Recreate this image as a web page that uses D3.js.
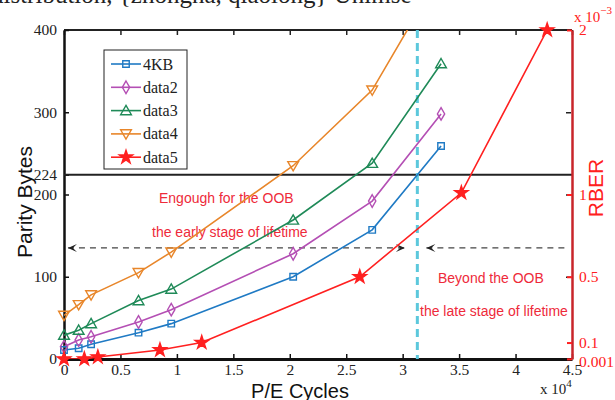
<!DOCTYPE html>
<html><head><meta charset="utf-8">
<script src="https://cdn.jsdelivr.net/npm/d3@7"></script>
<style>body{margin:0;background:#fff}svg{display:block}</style>
</head><body>
<script>
// ---- data ----
const peCycles = [0, 0.13, 0.24, 0.66, 0.95, 2.03, 2.73, 3.34];      // x 10^4
const series4KB = [11, 13, 18, 32, 43, 100, 157, 259];
const seriesData2 = [15, 23, 27, 45, 60, 128, 192, 298];
const seriesData3 = [29, 35, 43, 71, 85, 169, 238, 359];
const seriesData4 = [53, 66, 78, 105, 130, 235, 327, 470];
const rberCycles = [0, 0.18, 0.30, 0.85, 1.22, 2.62, 3.52, 4.28];    // x 10^4
const rberValues = [0, 0, 0.012, 0.055, 0.10, 0.50, 1.01, 2.0];      // x 10^-3
const xTicks = [0, 0.5, 1, 1.5, 2, 2.5, 3, 3.5, 4, 4.5];
const yTicks = [0, 100, 200, 224, 300, 400];
const rTicks = [0.001, 0.1, 0.5, 1, 2];
const oobLimit = 224;
const arrowLevel = 135;
const boundaryCycle = 3.13;
const legendNames = ["4KB", "data2", "data3", "data4", "data5"];

const W = 615, H = 400;
const L = 64, R = 572, T = 30, B = 359;
const svg = d3.select("body").append("svg").attr("width", W).attr("height", H);

const x = d3.scaleLinear().domain([0, 4.5]).range([L, R]);
const y = d3.scaleLinear().domain([0, 400]).range([B, T]);
const yr = d3.scaleLinear().domain([0, 2]).range([B, T]);

const serif = "'Liberation Serif','Times New Roman',serif";
const sans = "'Liberation Sans',Arial,sans-serif";
const red = "#ff2020", annRed = "#ee2a3a", axRed = "#c8252a";

// clipped-off paper text at the very top
svg.append("text").attr("x", -9).attr("y", 3).attr("font-family", serif).attr("font-size", 25)
  .attr("fill", "#222").text("distribution, {zhongna, qiaolong} Unimse");

svg.append("defs").append("clipPath").attr("id", "clip")
  .append("rect").attr("x", L).attr("y", T).attr("width", R - L).attr("height", B - T);

// frame
svg.append("line").attr("x1", L).attr("x2", R).attr("y1", T).attr("y2", T).attr("stroke", "#222").attr("stroke-width", 2);

// axes (ticks inward)
const xAxis = d3.axisBottom(x).tickValues(xTicks).tickFormat(d => d3.format("")(d)).tickSizeInner(-5).tickSizeOuter(0).tickPadding(5);
const gx = svg.append("g").attr("transform", `translate(0,${B})`).call(xAxis);
gx.select(".domain").attr("stroke", "#111").attr("stroke-width", 3);
gx.selectAll(".tick line").attr("stroke", "#111").attr("stroke-width", 1.5);
gx.selectAll("text").attr("font-family", serif).attr("font-size", 15.5).attr("fill", "#222");

const xTop = d3.axisTop(x).tickValues(xTicks).tickSizeInner(-5).tickSizeOuter(0).tickFormat("");
const gxt = svg.append("g").attr("transform", `translate(0,${T})`).call(xTop);
gxt.select(".domain").remove();
gxt.selectAll(".tick line").attr("stroke", "#222").attr("stroke-width", 1.5);

const yAxis = d3.axisLeft(y).tickValues(yTicks).tickSizeInner(-5).tickSizeOuter(0).tickPadding(7);
const gy = svg.append("g").attr("transform", `translate(${L},0)`).call(yAxis);
gy.select(".domain").attr("stroke", "#111").attr("stroke-width", 2.5);
gy.selectAll(".tick line").attr("stroke", "#111").attr("stroke-width", 1.5);
gy.selectAll("text").attr("font-family", serif).attr("font-size", 15.5).attr("fill", "#222");

const yRightBlack = d3.axisLeft(y).tickValues([100, 200, 300]).tickSizeInner(5).tickSizeOuter(0).tickFormat("");
const gyb = svg.append("g").attr("transform", `translate(${R - 1},0)`).call(yRightBlack);
gyb.select(".domain").remove();
gyb.selectAll(".tick line").attr("stroke", "#222").attr("stroke-width", 1.5);

// 224 limit line
svg.append("line").attr("x1", L).attr("x2", R).attr("y1", y(oobLimit)).attr("y2", y(oobLimit))
  .attr("stroke", "#222").attr("stroke-width", 2);

// cyan boundary
svg.append("line").attr("x1", x(boundaryCycle)).attr("x2", x(boundaryCycle)).attr("y1", T).attr("y2", B)
  .attr("stroke", "#5cc8dc").attr("stroke-width", 3).attr("stroke-dasharray", "8,5");

// dashed arrows
function arrowHead(px, py, dir) {
  const s = 9, h = 4;
  const p = `M${px},${py} L${px - dir * s},${py - h} L${px - dir * s * 0.55},${py} L${px - dir * s},${py + h} Z`;
  svg.append("path").attr("d", p).attr("fill", "#222");
}
const ay = y(arrowLevel);
svg.append("line").attr("x1", x(0.035)).attr("x2", x(3.02)).attr("y1", ay).attr("y2", ay)
  .attr("stroke", "#444").attr("stroke-width", 1.2).attr("stroke-dasharray", "6,5");
arrowHead(x(0.035), ay, -1);
arrowHead(x(3.02), ay, 1);
svg.append("line").attr("x1", x(3.21)).attr("x2", x(4.47)).attr("y1", ay).attr("y2", ay)
  .attr("stroke", "#444").attr("stroke-width", 1.2).attr("stroke-dasharray", "6,5");
arrowHead(x(3.21), ay, -1);

// annotations
const ann = [
  ["Engough for the OOB", 159, 203],
  ["the early stage of lifetime", 152, 237],
  ["Beyond the OOB", 438, 283],
  ["the late stage of lifetime", 420, 316]
];
ann.forEach(a => svg.append("text").attr("x", a[1]).attr("y", a[2]).attr("font-family", sans)
  .attr("font-size", 14).attr("fill", annRed).text(a[0]));

// series
const series = [
  {name: legendNames[0], xs: peCycles, ys: series4KB, color: "#1f7ac4", sym: d3.symbolSquare, size: 42, fill: "#fff", scale: y},
  {name: legendNames[1], xs: peCycles, ys: seriesData2, color: "#b44fb4", sym: d3.symbolDiamond, size: 46, fill: "#fff", scale: y},
  {name: legendNames[2], xs: peCycles, ys: seriesData3, color: "#1f8a58", sym: d3.symbolTriangle, size: 50, fill: "#fff", scale: y},
  {name: legendNames[3], xs: peCycles, ys: seriesData4, color: "#e8862a", sym: d3.symbolTriangle, size: 50, fill: "#fff", scale: y, rot: 180},
  {name: legendNames[4], xs: rberCycles, ys: rberValues, color: red, sym: d3.symbolStar, size: 55, fill: red, scale: yr}
];
const plot = svg.append("g").attr("clip-path", "url(#clip)");
const plotM = svg.append("g");
function marker(g, s, px, py) {
  g.append("path").attr("d", d3.symbol().type(s.sym).size(s.size)())
    .attr("transform", `translate(${px},${py + (s.sym === d3.symbolTriangle ? (s.rot ? -1 : 1) : 0)}) rotate(${s.rot || 0})`)
    .attr("fill", s.fill).attr("fill-opacity", s.fill === "#fff" ? 0 : 1)
    .attr("stroke", s.color).attr("stroke-width", 1.4);
}
series.forEach(s => {
  const pts = s.xs.map((v, i) => [x(v), s.scale(s.ys[i])]);
  plot.append("path").attr("d", d3.line()(pts)).attr("fill", "none").attr("stroke", s.color).attr("stroke-width", 1.6);
  pts.forEach(p => { if (p[1] >= T - 1) marker(plotM, s, p[0], p[1]); });
});

// right axis
const rAxis = d3.axisRight(yr).tickValues(rTicks).tickSizeInner(-5).tickSizeOuter(0).tickPadding(7)
  .tickFormat(d => d3.format("")(d));
const gr = svg.append("g").attr("transform", `translate(${R},0)`).call(rAxis);
gr.select(".domain").attr("stroke", axRed).attr("stroke-width", 2.5);
gr.selectAll(".tick line").attr("stroke", red).attr("stroke-width", 2);
gr.selectAll("text").attr("font-family", serif).attr("font-size", 15.5).attr("fill", red);
gr.selectAll(".tick").filter(d => d === 0.001).select("text").attr("dy", "0.5em");

// exponent labels
const e3 = svg.append("text").attr("x", 574).attr("y", 22).attr("font-family", serif).attr("font-size", 15).attr("fill", red);
e3.append("tspan").text("x 10");
e3.append("tspan").attr("dy", -8).attr("font-size", 11).text("−3");
const e4 = svg.append("text").attr("x", 540).attr("y", 394).attr("font-family", serif).attr("font-size", 15).attr("fill", "#222");
e4.append("tspan").text("x 10");
e4.append("tspan").attr("dy", -7).attr("font-size", 11).text("4");

// axis titles
svg.append("text").attr("transform", `translate(32,${202}) rotate(-90)`).attr("text-anchor", "middle")
  .attr("font-family", sans).attr("font-size", 21).attr("fill", "#111").text("Parity Bytes");
svg.append("text").attr("x", 300).attr("y", 398).attr("text-anchor", "middle")
  .attr("font-family", sans).attr("font-size", 20).attr("fill", "#111").text("P/E Cycles");
svg.append("text").attr("transform", `translate(603,${188}) rotate(-90)`).attr("text-anchor", "middle")
  .attr("font-family", sans).attr("font-size", 21).attr("fill", red).text("RBER");

// legend
const lg = svg.append("g");
lg.append("rect").attr("x", 104).attr("y", 50).attr("width", 83).attr("height", 119)
  .attr("fill", "#fff").attr("stroke", "#222").attr("stroke-width", 1);
series.forEach((s, i) => {
  const ry = 64 + i * 23.3;
  lg.append("line").attr("x1", 111).attr("x2", 141).attr("y1", ry).attr("y2", ry).attr("stroke", s.color).attr("stroke-width", 1.6);
  marker(lg, s, 126, ry);
  lg.append("text").attr("x", 143).attr("y", ry + 5.5).attr("font-family", serif).attr("font-size", 16)
    .attr("fill", "#222").text(s.name);
});
</script>
</body></html>
